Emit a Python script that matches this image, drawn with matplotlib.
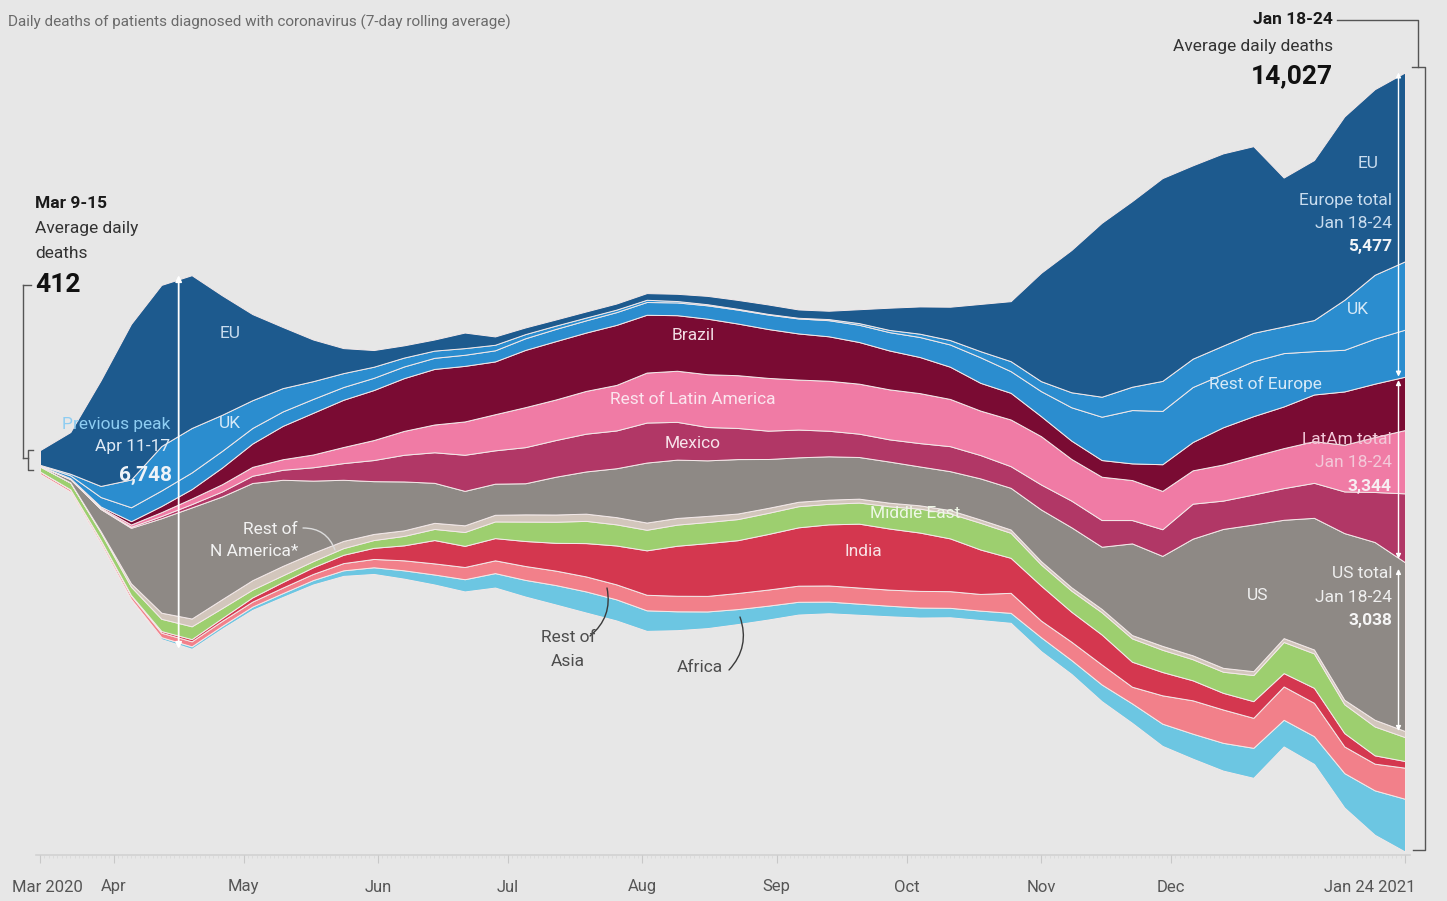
import numpy as np
import pandas as pd
import matplotlib
matplotlib.use('Agg')
import matplotlib.pyplot as plt
import matplotlib.dates as mdates

plt.rcParams['font.family'] = ['Roboto', 'DejaVu Sans']

# ---------------- data (7-day average daily deaths, weekly samples) ----------------
dates = pd.date_range('2020-03-15', '2021-01-24', freq='7D')

eu = [265, 750, 1900, 2800, 2900, 2750, 2150, 1550, 1100, 750, 450, 300, 220, 200, 280, 150,
      120, 110, 110, 110, 120, 130, 150, 160, 170, 150, 150, 250, 400, 490, 600, 850,
      1080, 1950, 2560, 3130, 3340, 3650, 3480, 3460, 3360, 2680, 2880, 3300, 3340, 3400]
uk = [5, 30, 200, 500, 800, 800, 650, 500, 420, 320, 250, 200, 160, 130, 120, 100,
      75, 60, 50, 45, 40, 25, 20, 15, 12, 12, 20, 30, 40, 60, 80, 110,
      180, 180, 270, 360, 420, 540, 510, 510, 510, 480, 560, 900, 1150, 1230]
rest_europe = [10, 50, 170, 250, 280, 300, 300, 280, 260, 250, 230, 220, 210, 200, 200, 200,
               210, 220, 220, 230, 230, 230, 240, 250, 260, 270, 290, 310, 330, 360, 400, 460,
               390, 450, 600, 780, 960, 960, 990, 960, 990, 960, 780, 750, 810, 847]
brazil = [1, 5, 20, 60, 110, 170, 300, 420, 600, 750, 850, 900, 950, 1000, 1000, 950,
          1030, 1050, 1050, 1080, 1040, 1000, 1000, 930, 880, 830, 800, 750, 700, 650, 580, 500,
          480, 360, 330, 300, 300, 480, 510, 670, 720, 750, 840, 960, 960, 960]
rest_latam = [2, 10, 20, 40, 70, 100, 130, 160, 190, 230, 290, 360, 430, 500, 600, 650,
              720, 730, 770, 820, 900, 920, 950, 950, 950, 900, 900, 900, 900, 900, 850, 800,
              840, 870, 750, 780, 720, 690, 600, 650, 690, 720, 750, 840, 990, 1140]
mexico = [0, 1, 5, 20, 40, 60, 90, 130, 180, 240, 300, 380, 480, 550, 650, 600,
          650, 660, 680, 680, 720, 680, 600, 560, 510, 500, 460, 420, 400, 420, 450, 420,
          390, 450, 480, 480, 420, 480, 630, 510, 540, 570, 630, 750, 900, 1240]
us = [10, 60, 400, 1000, 1700, 2000, 1850, 1750, 1550, 1300, 1100, 950, 880, 720, 620, 560,
      560, 680, 760, 880, 1080, 1050, 1000, 980, 880, 800, 780, 750, 740, 700, 700, 740,
      750, 930, 1080, 1120, 1650, 1620, 2100, 2500, 2640, 2130, 2370, 3000, 3200, 3038]
rest_n_america = [2, 5, 20, 60, 110, 140, 160, 170, 170, 150, 130, 110, 100, 110, 120, 120,
                  130, 130, 130, 130, 130, 120, 110, 100, 90, 80, 75, 70, 65, 60, 60, 60,
                  60, 60, 60, 60, 60, 70, 70, 70, 70, 70, 70, 80, 120, 110]
middle_east = [90, 120, 140, 150, 220, 230, 180, 140, 120, 110, 120, 140, 170, 200, 250, 300,
               350, 380, 400, 380, 370, 380, 380, 380, 380, 380, 370, 380, 400, 430, 450, 480,
               450, 380, 380, 400, 420, 400, 380, 380, 470, 560, 620, 520, 520, 430]
india = [0, 1, 3, 10, 30, 40, 50, 75, 100, 120, 150, 200, 270, 420, 380, 400,
         450, 500, 600, 700, 800, 900, 950, 950, 1000, 1050, 1100, 1150, 1100, 1050, 950, 800,
         630, 630, 540, 540, 450, 420, 360, 300, 300, 240, 270, 240, 150, 120]
rest_asia = [40, 40, 50, 60, 80, 90, 90, 90, 100, 110, 130, 150, 180, 200, 220, 230,
             250, 260, 270, 270, 280, 280, 280, 290, 290, 290, 290, 290, 290, 300, 300, 300,
             360, 300, 330, 360, 300, 510, 600, 600, 540, 600, 600, 480, 480, 560]
africa = [2, 5, 10, 20, 35, 45, 50, 60, 70, 80, 100, 120, 150, 180, 220, 260,
          300, 350, 380, 380, 370, 340, 300, 270, 250, 230, 210, 200, 190, 180, 170, 170,
          180, 250, 250, 300, 350, 400, 450, 500, 540, 480, 500, 620, 800, 950]

layers = [africa, rest_asia, india, middle_east, rest_n_america, us, mexico,
          rest_latam, brazil, rest_europe, uk, eu]
colors = ['#6cc6e2', '#f2808a', '#d4374f', '#9dcf6f', '#d2c6bc', '#8e8985', '#b13766',
          '#f07ba5', '#7a0b33', '#2b8dcf', '#2b8dcf', '#1d5a8e']

tick_dates = ['2020-03-15', '2020-04-01', '2020-05-01', '2020-06-01', '2020-07-01', '2020-08-01',
              '2020-09-01', '2020-10-01', '2020-11-01', '2020-12-01', '2021-01-24']
tick_labels = ['Mar 2020', 'Apr', 'May', 'Jun', 'Jul', 'Aug', 'Sep', 'Oct', 'Nov', 'Dec', 'Jan 24 2021']

# ---------------- figure ----------------
W, H = 1447, 901
BG = '#e7e7e7'
fig = plt.figure(figsize=(W / 100, H / 100), dpi=100)
fig.patch.set_facecolor(BG)
ax = fig.add_axes([0, 0, 1, 1])
ax.set_facecolor(BG)
for s in ax.spines.values():
    s.set_visible(False)
ax.set_xticks([])
ax.set_yticks([])

x = mdates.date2num(dates)
x0, x1 = x[0], x[-1]
ppd = (1405 - 40) / (x1 - x0)          # pixels per day
S = 18.0                                # deaths per pixel
CY = 462                                # pixel row of the stream centre
ax.set_xlim(x0 - 40 / ppd, x1 + (W - 1405) / ppd)
ax.set_ylim((CY - H) * S, CY * S)


def py(row):
    return (CY - row) * S


def dx(px):
    return x0 + (px - 40) / ppd


def fx(px):
    return px / W


def fy(row):
    return 1 - row / H


ax.stackplot(x, *layers, baseline='sym', colors=colors,
             edgecolor='#f3e9e9', linewidth=0.7)

# ---------------- axis line and ticks ----------------
ax.plot([x0 - 1, x1 + 1.2], [py(855), py(855)], color='#d2d2d2', lw=1.2)
days = mdates.date2num(pd.date_range('2020-03-15', '2021-01-24', freq='D'))
ax.vlines(days, py(858), py(855), color='#d6d6d6', lw=0.5)
tnum = mdates.date2num(pd.to_datetime(tick_dates))
ax.vlines(tnum, py(863), py(855), color='#c8c8c8', lw=0.8)
for i, (t, lab) in enumerate(zip(tnum, tick_labels)):
    xx = t
    if i == 0:
        xx = t + 7 / ppd
    if i == len(tnum) - 1:
        xx = t - 35 / ppd
    ax.text(xx, py(887), lab, ha='center', va='center', fontsize=12, color='#555555')

# ---------------- title ----------------
fig.text(fx(8), fy(22), 'Daily deaths of patients diagnosed with coronavirus (7-day rolling average)',
         ha='left', va='center', fontsize=11, color='#6a6a6a')

# ---------------- left annotation ----------------
fig.text(fx(35), fy(204), 'Mar 9-15', ha='left', va='center', fontsize=12.5, fontweight='bold', color='#1a1a1a')
fig.text(fx(35), fy(229), 'Average daily', ha='left', va='center', fontsize=12.5, color='#333333')
fig.text(fx(35), fy(253), 'deaths', ha='left', va='center', fontsize=12.5, color='#333333')
fig.text(fx(35), fy(285), '412', ha='left', va='center', fontsize=19, fontweight='bold', color='#111111')
lc = '#555555'
ax.plot([dx(23), dx(31)], [py(285), py(285)], color=lc, lw=1)
ax.plot([dx(23), dx(23)], [py(285), py(458)], color=lc, lw=1)
ax.plot([dx(23), dx(28)], [py(458), py(458)], color=lc, lw=1)
ax.plot([dx(33), dx(28), dx(28), dx(33)], [py(450), py(450), py(470), py(470)], color=lc, lw=1)

# ---------------- right annotation ----------------
fig.text(fx(1333), fy(20), 'Jan 18-24', ha='right', va='center', fontsize=12.5, fontweight='bold', color='#1a1a1a')
fig.text(fx(1333), fy(47), 'Average daily deaths', ha='right', va='center', fontsize=12.5, color='#333333')
fig.text(fx(1333), fy(76), '14,027', ha='right', va='center', fontsize=19, fontweight='bold', color='#111111')
ax.plot([dx(1337), dx(1418), dx(1418)], [py(20), py(20), py(67)], color=lc, lw=1)
ax.plot([dx(1412), dx(1425), dx(1425), dx(1413)], [py(67), py(67), py(850), py(850)], color=lc, lw=1)

# ---------------- arrows from data ----------------
tot = np.sum(np.array(layers, dtype=float), axis=0)
ak = 5
xa = x[ak] - 3
ax.annotate('', xy=(xa, tot[ak] / 2), xytext=(xa, -tot[ak] / 2),
            arrowprops=dict(arrowstyle='<|-|>', color='white', lw=1.3, mutation_scale=9,
                            shrinkA=0, shrinkB=0))
k = len(x) - 1
xe = x[k] - 1.5
top = tot[k] / 2
eur = eu[k] + uk[k] + rest_europe[k]
lat = brazil[k] + rest_latam[k] + mexico[k]
segs = [(top, top - eur), (top - eur - 60, top - eur - lat + 60),
        (top - eur - lat - 120, top - eur - lat - us[k])]
for a, b in segs:
    ax.annotate('', xy=(xe, a), xytext=(xe, b),
                arrowprops=dict(arrowstyle='<|-|>', color='white', lw=1.0, mutation_scale=7,
                                shrinkA=0, shrinkB=0))

# ---------------- stream labels ----------------
fig.text(fx(170), fy(424), 'Previous peak', ha='right', va='center', fontsize=12.5, color='#8ecdf2')
fig.text(fx(170), fy(447), 'Apr 11-17', ha='right', va='center', fontsize=12.5, color='#dfeaf5')
fig.text(fx(172), fy(475), '6,748', ha='right', va='center', fontsize=15, fontweight='bold', color='#eef3f8')
fig.text(fx(230), fy(333), 'EU', ha='center', va='center', fontsize=12.5, color='#c9dcee')
fig.text(fx(230), fy(424), 'UK', ha='center', va='center', fontsize=12.5, color='#d6e9f7')
fig.text(fx(693), fy(336), 'Brazil', ha='center', va='center', fontsize=12.5, color='#f1dce3')
fig.text(fx(693), fy(400), 'Rest of Latin America', ha='center', va='center', fontsize=12.5, color='#fbe5ee')
fig.text(fx(693), fy(444), 'Mexico', ha='center', va='center', fontsize=12.5, color='#f7e3ea')
fig.text(fx(298), fy(530), 'Rest of', ha='right', va='center', fontsize=12.5, color='#f2f2f2')
fig.text(fx(298), fy(552), 'N America*', ha='right', va='center', fontsize=12.5, color='#f2f2f2')
fig.text(fx(915), fy(514), 'Middle East', ha='center', va='center', fontsize=12.5, color='#eef7e6')
fig.text(fx(863), fy(551), 'India', ha='center', va='center', fontsize=12.5, color='#f8e2e6')
fig.text(fx(568), fy(637), 'Rest of', ha='center', va='center', fontsize=12.5, color='#4d4d4d')
fig.text(fx(568), fy(661), 'Asia', ha='center', va='center', fontsize=12.5, color='#4d4d4d')
fig.text(fx(700), fy(668), 'Africa', ha='center', va='center', fontsize=12.5, color='#4d4d4d')
fig.text(fx(1368), fy(163), 'EU', ha='center', va='center', fontsize=12.5, color='#c9dcee')
fig.text(fx(1392), fy(201), 'Europe total', ha='right', va='center', fontsize=12.5, color='#c9dcee')
fig.text(fx(1392), fy(223), 'Jan 18-24', ha='right', va='center', fontsize=12.5, color='#c9dcee')
fig.text(fx(1392), fy(246), '5,477', ha='right', va='center', fontsize=12.5, fontweight='bold', color='#f2f5f8')
fig.text(fx(1358), fy(309), 'UK', ha='center', va='center', fontsize=12.5, color='#d6e9f7')
fig.text(fx(1265), fy(384), 'Rest of Europe', ha='center', va='center', fontsize=12.5, color='#d6e9f7')
fig.text(fx(1392), fy(440), 'LatAm total', ha='right', va='center', fontsize=12.5, color='#f3c9d9')
fig.text(fx(1392), fy(462), 'Jan 18-24', ha='right', va='center', fontsize=12.5, color='#f3c9d9')
fig.text(fx(1392), fy(486), '3,344', ha='right', va='center', fontsize=12.5, fontweight='bold', color='#f7eef2')
fig.text(fx(1258), fy(595), 'US', ha='center', va='center', fontsize=12.5, color='#f0f0f0')
fig.text(fx(1392), fy(574), 'US total', ha='right', va='center', fontsize=12.5, color='#efefef')
fig.text(fx(1392), fy(597), 'Jan 18-24', ha='right', va='center', fontsize=12.5, color='#efefef')
fig.text(fx(1392), fy(620), '3,038', ha='right', va='center', fontsize=12.5, fontweight='bold', color='#f6f6f6')

# leader lines
ax.annotate('', xy=(dx(335), py(550)), xytext=(dx(303), py(528)),
            arrowprops=dict(arrowstyle='-', color='#dcdcdc', lw=1.0,
                            connectionstyle='arc3,rad=-0.35', shrinkA=0, shrinkB=0))
ax.annotate('', xy=(dx(607), py(588)), xytext=(dx(590), py(636)),
            arrowprops=dict(arrowstyle='-', color='#3a3a3a', lw=1.0,
                            connectionstyle='arc3,rad=0.3', shrinkA=0, shrinkB=0))
ax.annotate('', xy=(dx(740), py(617)), xytext=(dx(729), py(670)),
            arrowprops=dict(arrowstyle='-', color='#3a3a3a', lw=1.0,
                            connectionstyle='arc3,rad=0.3', shrinkA=0, shrinkB=0))

fig.savefig('out.png', dpi=100, facecolor=BG)
